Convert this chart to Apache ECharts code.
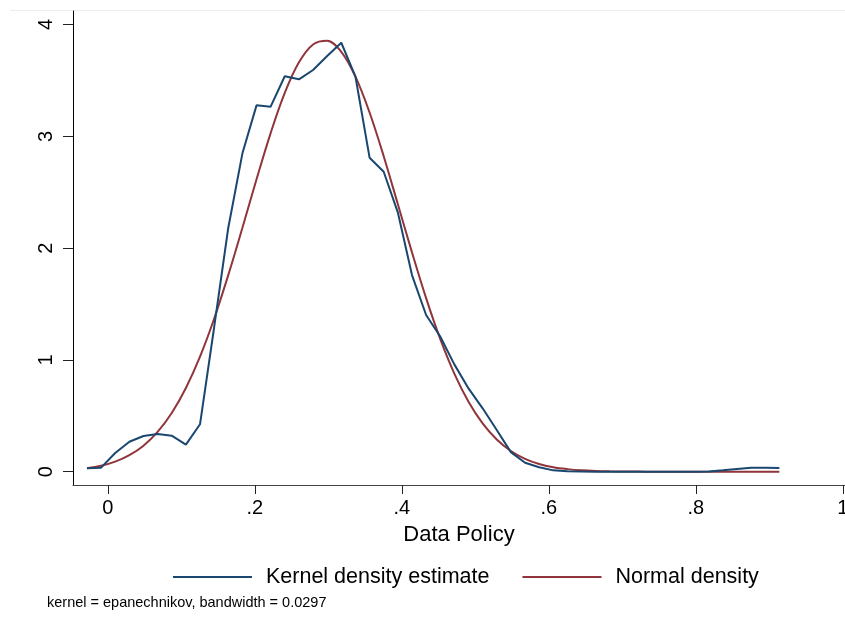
<!DOCTYPE html>
<html>
<head>
<meta charset="utf-8">
<script src="https://cdn.jsdelivr.net/npm/echarts@6/dist/echarts.min.js"></script>
<style>
html,body{margin:0;padding:0;background:#fff;}
#chart{width:845px;height:626px;}
</style>
</head>
<body>
<div id="chart"></div>
<script>
// Evaluation grid (Data Policy)
var xGrid = [-0.0283,-0.0091,0.0101,0.0294,0.0486,0.0678,0.0870,0.1063,0.1255,0.1447,
  0.1639,0.1832,0.2024,0.2216,0.2408,0.2601,0.2793,0.2985,0.3177,0.3370,
  0.3562,0.3754,0.3946,0.4139,0.4331,0.4523,0.4715,0.4908,0.5100,0.5292,
  0.5484,0.5677,0.5869,0.6061,0.6253,0.6446,0.6638,0.6830,0.7022,0.7214,
  0.7407,0.7599,0.7791,0.7983,0.8176,0.8368,0.8560,0.8752,0.8945,0.9137];
// Kernel density estimate
var kdensity = [0.030,0.036,0.167,0.268,0.319,0.337,0.322,0.242,0.424,1.29,
  2.18,2.848,3.277,3.265,3.537,3.510,3.593,3.718,3.837,3.533,
  2.809,2.683,2.32,1.759,1.402,1.21,0.96,0.745,0.567,0.373,
  0.175,0.08,0.04,0.012,0.005,0.002,0,0,0,0,
  0,0,0,0,0.002,0.012,0.025,0.035,0.036,0.033];
// Normal density
var normal = [0.030,0.053,0.090,0.148,0.233,0.356,0.525,0.749,1.029,1.368,
  1.758,2.182,2.616,3.029,3.388,3.662,3.822,3.855,3.756,3.534,
  3.213,2.822,2.394,1.962,1.553,1.188,0.878,0.626,0.432,0.288,
  0.185,0.115,0.069,0.040,0.023,0.012,0.006,0.003,0.002,0.001,
  0,0,0,0,0,0,0,0,0,0];
var xTicks = [0,0.2,0.4,0.6,0.8,1];
var xTickLabels = ['0','.2','.4','.6','.8','1'];
var yTicks = [0,1,2,3,4];
var yTickLabels = ['0','1','2','3','4'];
var seriesNames = ['Kernel density estimate','Normal density'];
var xTitle = 'Data Policy';
var noteText = 'kernel = epanechnikov, bandwidth = 0.0297';

var FONT = '"Liberation Sans", Arial, Helvetica, sans-serif';
var BLUE = '#1a476f', RED = '#90353b';

function pairs(ys){ return xGrid.map(function(x,i){ return [x, ys[i]]; }); }

var chart = echarts.init(document.getElementById('chart'), null, {renderer:'canvas'});
chart.setOption({
  animation:false,
  backgroundColor:'#fff',
  textStyle:{fontFamily:FONT},
  grid:{left:73, right:0, top:11, bottom:141, containLabel:false, outerBoundsMode:'none'},
  xAxis:{
    type:'value', min:-0.0473, max:1.003,
    name:xTitle, nameLocation:'middle', nameGap:39,
    nameTextStyle:{fontSize:22, color:'#000', fontFamily:FONT},
    axisLine:{show:true, onZero:false, lineStyle:{color:'#444', width:1}},
    axisTick:{show:true, length:9, customValues:xTicks, lineStyle:{color:'#222'}},
    axisLabel:{customValues:xTicks, fontSize:20, color:'#000', margin:13, fontFamily:FONT,
      formatter:function(v){ var i = xTicks.indexOf(v); return i>=0 ? xTickLabels[i] : ''; }},
    splitLine:{show:false}
  },
  yAxis:{
    type:'value', min:-0.119, max:4.121,
    axisLine:{show:true, onZero:false, lineStyle:{color:'#000', width:1}},
    axisTick:{show:true, length:10, customValues:yTicks, lineStyle:{color:'#222'}},
    axisLabel:{customValues:yTicks, fontSize:20, color:'#000', rotate:90, margin:17, fontFamily:FONT,
      formatter:function(v){ var i = yTicks.indexOf(v); return i>=0 ? yTickLabels[i] : ''; }},
    splitLine:{show:false}
  },
  legend:{
    left:168, top:561, itemGap:33, itemWidth:79, itemHeight:2, icon:'rect',
    textStyle:{fontSize:21.5, color:'#000', fontFamily:FONT, padding:[0,0,0,9]},
    data:seriesNames
  },
  graphic:[
    {type:'line', shape:{x1:10,y1:10.5,x2:845,y2:10.5}, style:{stroke:'#eeeeee', lineWidth:1}, silent:true},
    {type:'text', left:47, top:595, style:{text:noteText, fontSize:14.5, fill:'#000', font:'14.5px '+FONT}}
  ],
  series:[
    {name:seriesNames[0], type:'line', data:pairs(kdensity), showSymbol:false, symbol:'none',
      lineStyle:{color:BLUE, width:2}, itemStyle:{color:BLUE}, z:3},
    {name:seriesNames[1], type:'line', data:pairs(normal), showSymbol:false, symbol:'none', smooth:0.35,
      lineStyle:{color:RED, width:2}, itemStyle:{color:RED}, z:2}
  ]
});
</script>
</body>
</html>
